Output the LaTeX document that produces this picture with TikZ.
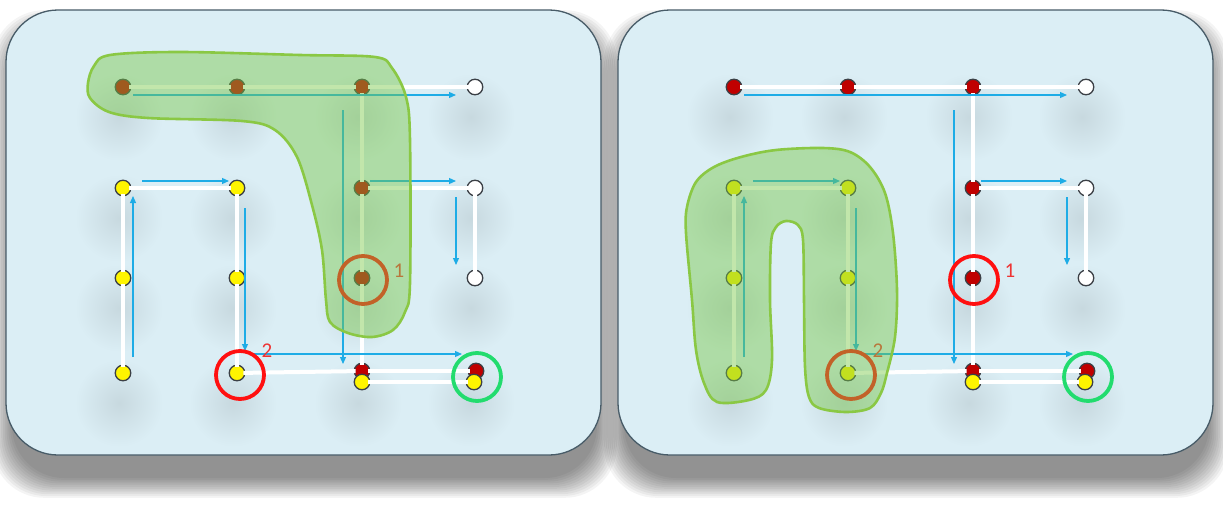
\documentclass[tikz,border=0pt]{standalone}
\usepackage{fontspec}
\setmainfont{Carlito}
\usetikzlibrary{arrows.meta}

\definecolor{panelbg}{RGB}{219,238,245}
\definecolor{panelrim}{RGB}{72,92,104}
\definecolor{flowblue}{RGB}{30,172,230}
\definecolor{dotred}{RGB}{192,0,0}
\definecolor{dotyellow}{RGB}{255,245,0}
\definecolor{dotrim}{RGB}{60,64,70}
\definecolor{ringred}{RGB}{255,16,16}
\definecolor{ringgreen}{RGB}{34,220,110}
\definecolor{tagred}{RGB}{238,52,52}
\definecolor{blobfill}{RGB}{120,200,70}
\definecolor{blobline}{RGB}{138,200,68}

\tikzset{
  panel/.style={fill=panelbg, draw=panelrim, line width=1.3pt, rounded corners=52pt},
  track/.style={draw=white, line width=4pt, shorten <=-2pt, shorten >=-2pt},
  flow/.style={draw=flowblue, line width=1.2pt, -{Triangle[length=7pt,width=6pt]}},
  pin/.style={circle, draw=dotrim, line width=1.3pt, minimum size=15.5pt, inner sep=0pt},
  redpin/.style={pin, fill=dotred},
  yellowpin/.style={pin, fill=dotyellow},
  openpin/.style={pin, fill=white},
  ring/.style={circle, draw=ringred, line width=3.8pt, minimum size=48pt, inner sep=0pt},
  goal/.style={ring, draw=ringgreen},
  tag/.style={text=tagred, font=\fontsize{21}{21}\selectfont, inner sep=0pt},
  blob/.style={fill=blobfill, fill opacity=0.45, draw=blobline, line width=2.6pt, draw opacity=1},
}

% One pegboard: pegs, white tracks, blue flow arrows, marker rings and tags
\newcommand\pegboard[1]{%
  % soft shadows under the pegs
  \foreach \px in {123,237,362,475}{%
    \foreach \py in {87,188,278,373}{%
      \shade[inner color=panelbg!91!black, outer color=panelbg] (\px-4,\py+30) circle (44);
    }%
  }%
  % pegs
  \node[redpin]    (#1a1) at (123,87) {};
  \node[redpin]    (#1b1) at (237,87) {};
  \node[redpin]    (#1c1) at (362,87) {};
  \node[openpin]   (#1d1) at (475,87) {};
  \node[yellowpin] (#1a2) at (123,188) {};
  \node[yellowpin] (#1b2) at (237,188) {};
  \node[redpin]    (#1c2) at (362,188) {};
  \node[openpin]   (#1d2) at (475,188) {};
  \node[yellowpin] (#1a3) at (123,278) {};
  \node[yellowpin] (#1b3) at (237,278) {};
  \node[redpin]    (#1c3) at (362,278) {};
  \node[openpin]   (#1d3) at (475,278) {};
  \node[yellowpin] (#1a4) at (123,373) {};
  \node[yellowpin] (#1b4) at (237,373) {};
  \node[redpin]    (#1c4r) at (362,371) {};
  \node[yellowpin] (#1c4y) at (362,382) {};
  \node[redpin]    (#1d4r) at (476,371) {};
  \node[yellowpin] (#1d4y) at (474,382) {};
  % white tracks
  \path (#1a1) edge[track] (#1b1)
        (#1b1) edge[track] (#1c1)
        (#1c1) edge[track] (#1d1)
        (#1c1) edge[track] (#1c2)
        (#1c2) edge[track] (#1c3)
        (#1c3) edge[track] (#1c4r)
        (#1a2) edge[track] (#1b2)
        (#1c2) edge[track] (#1d2)
        (#1a2) edge[track] (#1a3)
        (#1a3) edge[track] (#1a4)
        (#1b2) edge[track] (#1b3)
        (#1b3) edge[track] (#1b4)
        (#1d2) edge[track] (#1d3)
        (#1b4) edge[track] (#1c4r)
        (#1c4r) edge[track] (#1d4r)
        (#1c4y) edge[track] (#1d4y);
  % blue flow arrows
  \coordinate (#1f1s) at (133,95);  \coordinate (#1f1e) at (456,95);
  \coordinate (#1f2s) at (343,110); \coordinate (#1f2e) at (343,364);
  \coordinate (#1f3s) at (142,181); \coordinate (#1f3e) at (229,181);
  \coordinate (#1f4s) at (370,181); \coordinate (#1f4e) at (456,181);
  \coordinate (#1f5s) at (133,357); \coordinate (#1f5e) at (133,196);
  \coordinate (#1f6s) at (245,208); \coordinate (#1f6e) at (245,351);
  \coordinate (#1f7s) at (456,197); \coordinate (#1f7e) at (456,265);
  \coordinate (#1f8s) at (250,354); \coordinate (#1f8e) at (462,354);
  \foreach \k in {1,...,8}{\draw[flow] (#1f\k s) -- (#1f\k e);}
  % marker rings and their tags
  \node[ring] (#1ringA) at (363,280) {};
  \node[ring] (#1ringB) at (240,375) {};
  \node[goal] (#1ringC) at (477,377) {};
  \node[tag]  (#1tagA) at (399,271) {1};
  \node[tag]  (#1tagB) at (267,351) {2};
}

\begin{document}
\begin{tikzpicture}[x=1pt,y=-1pt]
\useasboundingbox (0,0) rectangle (1223,506);
\fill[white] (0,0) rectangle (1223,506);

% drop shadows of the two panels
\foreach \ox in {0,612}{%
  \foreach \k in {0,...,11}{%
    \fill[black, opacity=0.042, rounded corners=52pt]
      (\ox+12-1.8*\k, 30-1.8*\k) rectangle (\ox+597+1.8*\k, 478+1.8*\k);
  }%
}

% panels
\draw[panel] (6,10) rectangle (601,455);
\draw[panel] (618,10) rectangle (1213,455);

% left board
\pegboard{L}
% right board
\begin{scope}[xshift=611pt]
\pegboard{R}
\end{scope}

% highlighted regions
\draw[blob] plot[smooth cycle, tension=0.55] coordinates {
  (88,83) (94,66) (110,55) (180,52) (300,55) (375,57) (392,68) (406,97)
  (410,140) (410,283) (405,312) (393,330) (372,337) (348,333) (330,322)
  (326,300) (322,250) (312,205) (297,157) (275,130) (242,121) (148,118)
  (109,112) (90,98)};
\draw[blob] plot[smooth cycle, tension=0.55] coordinates {
  (696,182) (714,167) (741,157) (776,150) (823,148) (850,152) (870,167)
  (885,193) (893,233) (897,290) (895,337) (887,373) (881,393) (870,408)
  (846,412) (819,408) (809,397) (805,367) (804,300) (803,240) (798,225)
  (786,221) (776,227) (771,243) (770,300) (772,360) (766,390) (749,400)
  (717,402) (704,383) (696,350) (692,300) (686,233) (687,207)};
\end{tikzpicture}
\end{document}
